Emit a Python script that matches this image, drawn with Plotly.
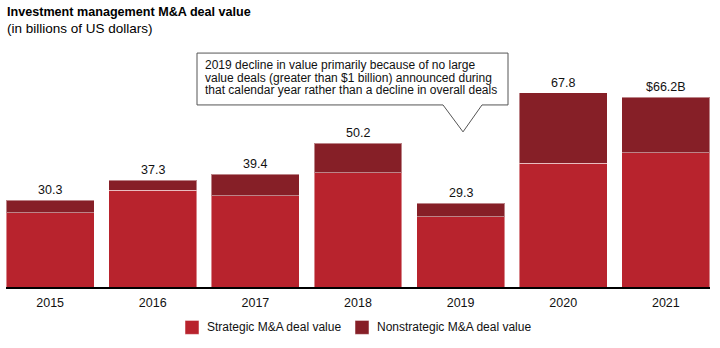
import plotly.graph_objects as go

years = ["2015", "2016", "2017", "2018", "2019", "2020", "2021"]
strategic = [25.9, 33.7, 31.8, 39.9, 24.5, 43.1, 46.8]
nonstrategic = [4.4, 3.6, 7.6, 10.3, 4.8, 24.7, 19.4]
total_labels = ["30.3", "37.3", "39.4", "50.2", "29.3", "67.8", "$66.2B"]
totals = [30.3, 37.3, 39.4, 50.2, 29.3, 67.8, 66.2]
series_names = ["Strategic M&A deal value", "Nonstrategic M&A deal value"]

W, H = 720, 348
L, R, T, B = 6, 10, 80, 60.5
PW = W - L - R
PH = H - T - B


def px(x):
    return (x - L) / PW


def py(y):
    return (H - B - y) / PH


FONT = "Liberation Sans, Arial, sans-serif"
C_STRAT = "#B8232D"
C_NON = "#861F27"
colors = [C_STRAT, C_NON]

fig = go.Figure()
for name, vals, col in zip(series_names, [strategic, nonstrategic], colors):
    fig.add_trace(go.Bar(
        x=list(range(len(years))), y=vals, name=name,
        marker=dict(color=col, line=dict(color="rgba(255,255,255,0.45)", width=1)),
        hoverinfo="skip", showlegend=False,
    ))

annotations = []
for i, (tot, lab) in enumerate(zip(totals, total_labels)):
    annotations.append(dict(
        x=i, y=tot, xref="x", yref="y", text=lab, showarrow=False,
        yanchor="bottom", yshift=1, font=dict(family=FONT, size=12.5, color="#111"),
    ))

annotations.append(dict(
    x=px(5), y=py(12), xref="paper", yref="paper", xanchor="left", yanchor="middle",
    text="<b>Investment management M&A deal value</b>", showarrow=False,
    font=dict(family=FONT, size=12.6, color="#000"),
))
annotations.append(dict(
    x=px(5), y=py(28), xref="paper", yref="paper", xanchor="left", yanchor="middle",
    text="(in billions of US dollars)", showarrow=False,
    font=dict(family=FONT, size=13.5, color="#000"),
))

callout_lines = [
    "2019 decline in value primarily because of no large",
    "value deals (greater than $1 billion) announced during",
    "that calendar year rather than a decline in overall deals",
]
for i, line in enumerate(callout_lines):
    annotations.append(dict(
        x=px(203), y=py(65 + 12.5 * i), xref="paper", yref="paper",
        xanchor="left", yanchor="middle", text=line, showarrow=False,
        font=dict(family=FONT, size=12, color="#111"),
    ))

shapes = []
pts = [(197, 53), (508, 53), (508, 105), (482, 105), (463, 132), (443, 105), (197, 105)]
path = "M " + " L ".join(f"{px(a):.5f},{py(b):.5f}" for a, b in pts) + " Z"
shapes.append(dict(type="path", path=path, xref="paper", yref="paper",
                   line=dict(color="#555", width=1), fillcolor="white", layer="above"))

# manual legend
legend_x = [185, 355]
for lx, name, col in zip(legend_x, series_names, colors):
    shapes.append(dict(type="rect", xref="paper", yref="paper",
                       x0=px(lx), x1=px(lx + 14), y0=py(321), y1=py(335),
                       fillcolor=col, line=dict(color="rgba(255,255,255,0.5)", width=1)))
    annotations.append(dict(
        x=px(lx + 20), y=py(328), xref="paper", yref="paper", xanchor="left",
        yanchor="middle", text=name, showarrow=False,
        font=dict(family=FONT, size=12, color="#111"),
    ))

fig.update_layout(
    width=W, height=H,
    margin=dict(l=L, r=R, t=T, b=B, pad=0),
    barmode="stack", bargap=0.143,
    plot_bgcolor="white", paper_bgcolor="white",
    showlegend=False,
    xaxis=dict(range=[-0.43, 6.43], showline=True, linecolor="#000", linewidth=1.5,
               tickmode="array", tickvals=list(range(len(years))), ticktext=years,
               ticks="", ticklabelstandoff=3,
               tickfont=dict(family=FONT, size=12.5, color="#111"),
               showgrid=False, zeroline=False, fixedrange=True),
    yaxis=dict(range=[0, PH / 2.873], visible=False, showgrid=False, fixedrange=True),
    annotations=annotations,
    shapes=shapes,
)

fig.write_html("out.html")
